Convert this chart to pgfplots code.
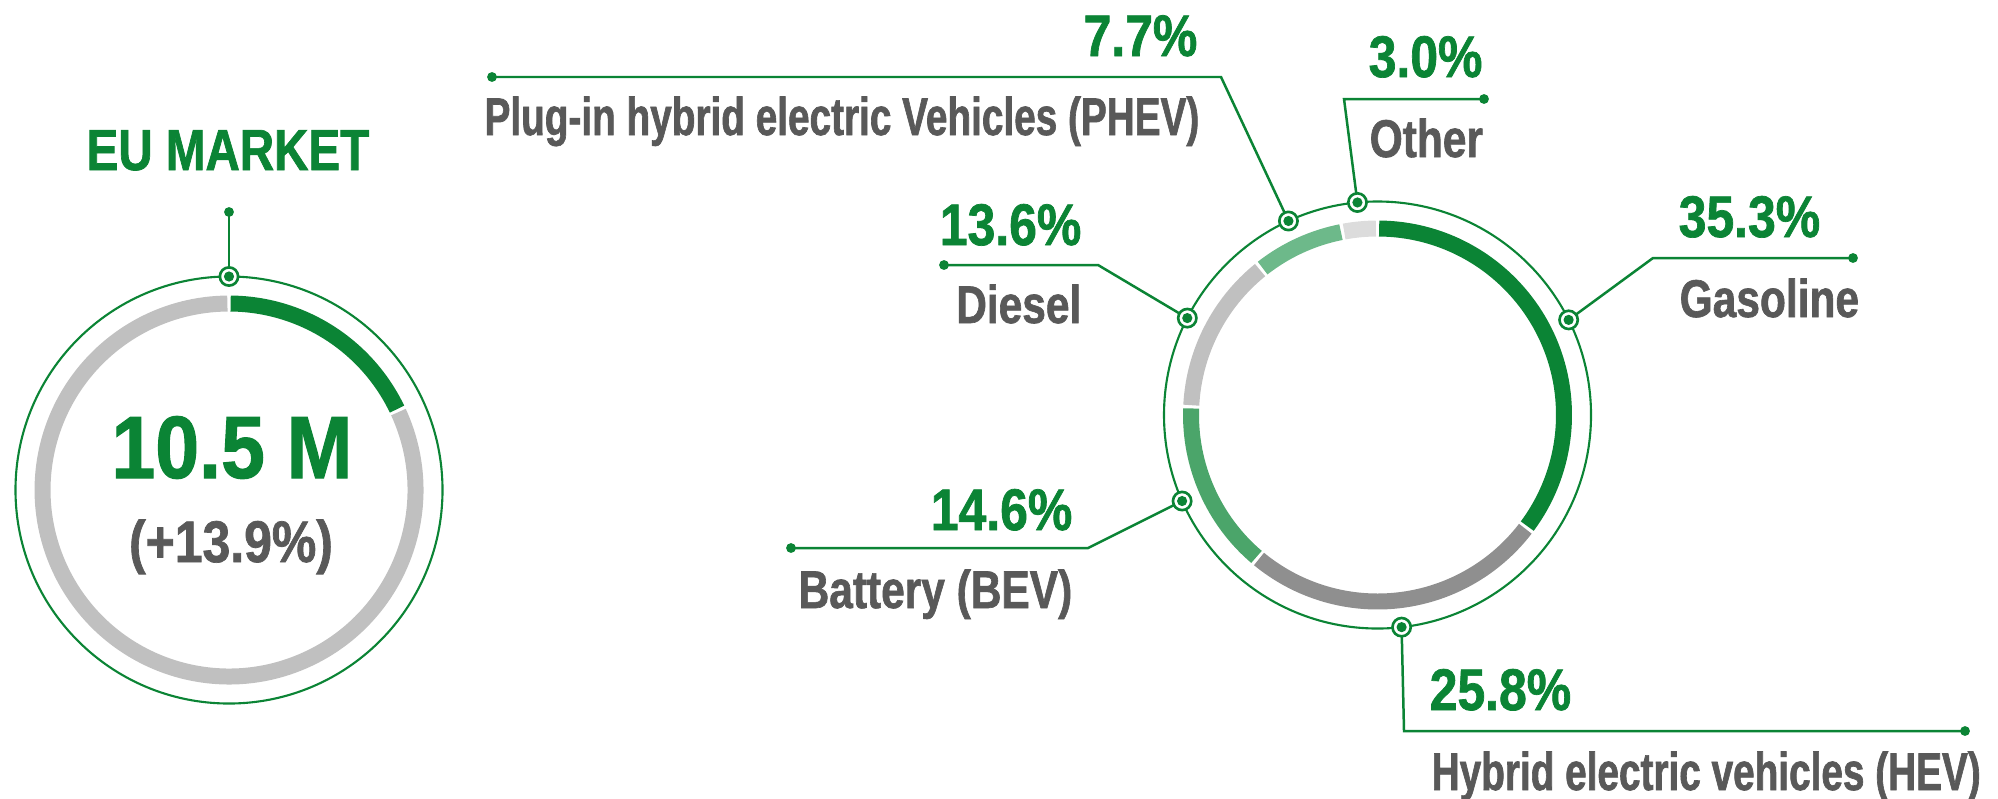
\documentclass[border=0pt]{standalone}
\usepackage{pgfplots}
\pgfplotsset{compat=1.18}
\usepackage{pgfplotstable}
\usepackage{fontspec}
\setmainfont{Liberation Sans}
\newfontfamily\pctf{Liberation Sans}[FakeStretch=0.85,FakeBold=1.2]
\newfontfamily\lblf{Liberation Sans}[FakeStretch=0.80,FakeBold=1.2]
\newfontfamily\lblnf{Liberation Sans}[FakeStretch=0.73,FakeBold=1.2]
\newfontfamily\euf{Liberation Sans}[FakeStretch=0.82,FakeBold=1.2]
\newfontfamily\bigf{Liberation Sans}[FakeStretch=0.89,FakeBold=1.2]
\definecolor{cGreen}{HTML}{0B8435}
\definecolor{cText}{HTML}{595959}
\definecolor{cGas}{HTML}{0B8435}
\definecolor{cHev}{HTML}{8F8F8F}
\definecolor{cBev}{HTML}{4BA56A}
\definecolor{cDie}{HTML}{C0C0C0}
\definecolor{cPhev}{HTML}{6DB98A}
\definecolor{cOth}{HTML}{DCDCDC}

% market mix (share in %), clockwise from 12 o'clock
\pgfplotstableread[col sep=comma]{
name,share,col
Gasoline,35.3,cGas
HEV,25.8,cHev
BEV,14.6,cBev
Diesel,13.6,cDie
PHEV,7.7,cPhev
Other,3.0,cOth
}\mixtable
% EU market ring
\pgfplotstableread[col sep=comma]{
name,share,col
Highlight,18.0,cGas
Remainder,82.0,cDie
}\eutable

% donut drawn in axis units (1 unit = 1 px of the reference)
\newcommand\donut[3]{%
  \def\cumsh{0}%
  \pgfplotstablegetrowsof{#1}\pgfmathtruncatemacro\nrows{\pgfplotsretval-1}%
  \pgfplotsforeachungrouped \i in {0,...,\nrows}{%
    \pgfplotstablegetelem{\i}{share}\of#1\let\segshare\pgfplotsretval
    \pgfplotstablegetelem{\i}{col}\of#1\let\segcol\pgfplotsretval
    \pgfplotstablegetelem{\i}{name}\of#1\let\segname\pgfplotsretval
    \pgfmathsetmacro\angA{90-3.6*\cumsh-0.5}%
    \pgfmathsetmacro\cumsh{\cumsh+\segshare}%
    \pgfmathsetmacro\angB{90-3.6*\cumsh+0.5}%
    \pgfmathsetmacro\sx{#2+186.5*cos(\angA)}%
    \pgfmathsetmacro\sy{#3+186.5*sin(\angA)}%
    \pgfmathsetmacro\angM{(\angA+\angB)/2}%
    \pgfmathsetmacro\mx{#2+213.5*cos(\angM)}%
    \pgfmathsetmacro\my{#3+213.5*sin(\angM)}%
    \expandafter\xdef\csname mx\segname\endcsname{\mx}%
    \expandafter\xdef\csname my\segname\endcsname{\my}%
    \expandafter\xdef\csname pct\segname\endcsname{\segshare}%
    \edef\temp{\noexpand\draw[line width=4.55pt,color=\segcol] (axis cs:\sx,\sy) arc[start angle=\angA,end angle=\angB,radius=53.06pt];}%
    \temp
  }%
}
\newcommand\marker[2]{%
  \draw[cGreen,line width=0.75pt,fill=white] (axis cs:#1,#2) circle[radius=2.6pt];
  \fill[cGreen] (axis cs:#1,#2) circle[radius=1.45pt];
}
\newcommand\tipdot[2]{\fill[cGreen] (axis cs:#1,#2) circle[radius=1.4pt];}
\tikzset{
  pct/.style={inner sep=0pt,text=cGreen,font=\pctf\bfseries\fontsize{16.7}{18}\selectfont},
  lbl/.style={inner sep=0pt,text=cText,font=\lblf\bfseries\fontsize{15.1}{17}\selectfont},
  lbln/.style={inner sep=0pt,text=cText,font=\lblnf\bfseries\fontsize{15.1}{17}\selectfont},
  lead/.style={cGreen,line width=0.71pt},
}

\begin{document}
\begin{tikzpicture}
\begin{axis}[scale only axis, width=199.8mm, height=79.8mm,
  xmin=0, xmax=1998, ymin=0, ymax=798, hide axis, clip=false]

% ---------- left: EU market ----------
\draw[cGreen,line width=0.6pt] (axis cs:229,308) circle[radius=60.75pt];
\donut{\eutable}{229}{308}
\draw[lead] (axis cs:229,521.5) -- (axis cs:229,586);
\tipdot{229}{586}
\marker{229}{521.5}
\node[anchor=base,inner sep=0pt,text=cGreen,font=\euf\bfseries\fontsize{16.5}{18}\selectfont] at (axis cs:228,628) {EU MARKET};
\node[anchor=base,inner sep=0pt,text=cGreen,font=\bigf\bfseries\fontsize{25.2}{28}\selectfont] at (axis cs:232,320) {10.5 M};
\node[anchor=base,inner sep=0pt,text=cText,font=\pctf\bfseries\fontsize{16.7}{18}\selectfont] at (axis cs:231,236) {(+13.9\%)};

% ---------- right: powertrain mix ----------
\draw[cGreen,line width=0.6pt] (axis cs:1377.5,383) circle[radius=60.75pt];
\donut{\mixtable}{1377.5}{383}

% leader lines
\draw[lead] (axis cs:\mxGasoline,\myGasoline) -- (axis cs:1653,540) -- (axis cs:1853,540);
\draw[lead] (axis cs:\mxDiesel,\myDiesel) -- (axis cs:1098,533) -- (axis cs:944,533);
\draw[lead] (axis cs:\mxBEV,\myBEV) -- (axis cs:1088,250) -- (axis cs:791,250);
\draw[lead] (axis cs:\mxPHEV,\myPHEV) -- (axis cs:1221,721) -- (axis cs:492,721);
\draw[lead] (axis cs:\mxOther,\myOther) -- (axis cs:1344,699) -- (axis cs:1484,699);
\draw[lead] (axis cs:\mxHEV,\myHEV) -- (axis cs:1404,67) -- (axis cs:1965,67);
\tipdot{1853}{540}\tipdot{944}{533}\tipdot{791}{250}
\tipdot{492}{721}\tipdot{1484}{699}\tipdot{1965}{67}
\marker{\mxGasoline}{\myGasoline}
\marker{\mxDiesel}{\myDiesel}
\marker{\mxBEV}{\myBEV}
\marker{\mxPHEV}{\myPHEV}
\marker{\mxOther}{\myOther}
\marker{\mxHEV}{\myHEV}

% labels
\node[pct,anchor=base west] at (axis cs:1678,561) {\pctGasoline\%};
\node[lbl,anchor=base west] at (axis cs:1679,481) {Gasoline};
\node[pct,anchor=base east] at (axis cs:1082,553) {\pctDiesel\%};
\node[lbl,anchor=base east] at (axis cs:1082,475) {Diesel};
\node[pct,anchor=base east] at (axis cs:1073,268) {\pctBEV\%};
\node[lbl,anchor=base east] at (axis cs:1073,190) {Battery (BEV)};
\node[pct,anchor=base east] at (axis cs:1198,742) {\pctPHEV\%};
\node[lbln,anchor=base east] at (axis cs:1200,663) {Plug-in hybrid electric Vehicles (PHEV)};
\node[pct,anchor=base west] at (axis cs:1368,721) {\pctOther\%};
\node[lbl,anchor=base west] at (axis cs:1369,641) {Other};
\node[pct,anchor=base west] at (axis cs:1429,88) {\pctHEV\%};
\node[lbln,anchor=base west] at (axis cs:1431,8) {Hybrid electric vehicles (HEV)};
\end{axis}
\pgfresetboundingbox
\path (current axis.south west) rectangle (current axis.north east);
\end{tikzpicture}
\end{document}
